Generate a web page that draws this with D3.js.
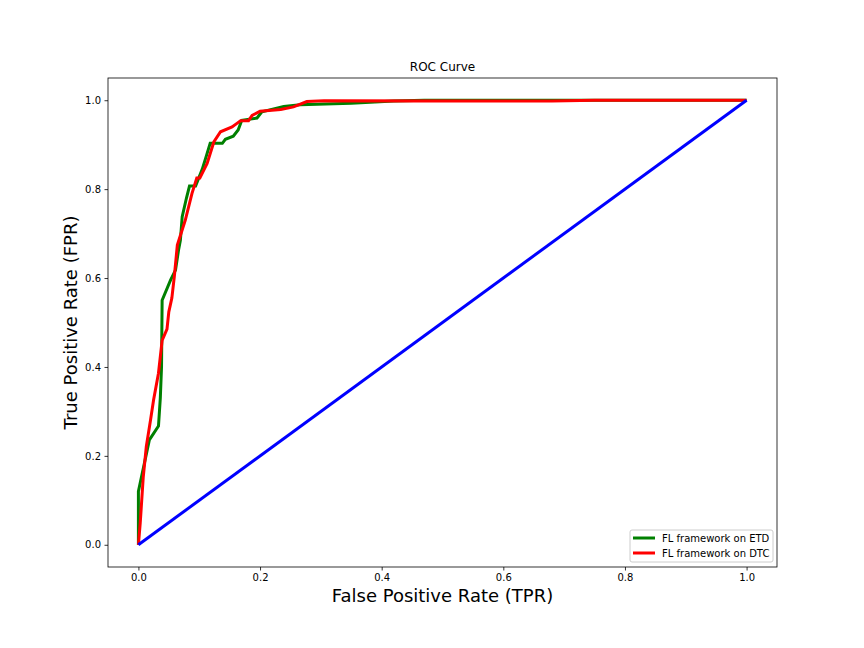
<!DOCTYPE html>
<meta charset="utf-8">
<script src="https://d3js.org/d3.v7.min.js"></script>
<style>
    body { margin: 0; background: #fff; }
    text { font-family: "DejaVu Sans", sans-serif; }
</style>
<div id="my_dataviz"></div>
<script>

    // ROC points: [FPR, TPR]
    var etdPoints = [
        [0, 0], [0, 0.12], [0.018, 0.236], [0.033, 0.267], [0.036, 0.33], [0.038, 0.40],
        [0.039, 0.55], [0.053, 0.596], [0.061, 0.618], [0.066, 0.663], [0.069, 0.685],
        [0.072, 0.738], [0.079, 0.78], [0.084, 0.807], [0.094, 0.807], [0.105, 0.845],
        [0.112, 0.876], [0.118, 0.903], [0.138, 0.903], [0.143, 0.912], [0.156, 0.919],
        [0.164, 0.933], [0.17, 0.955], [0.195, 0.96], [0.203, 0.974], [0.239, 0.986],
        [0.266, 0.99], [0.35, 0.993], [0.42, 0.998], [0.47, 1.0], [1.0, 1.0]
    ];
    var dtcPoints = [
        [0, 0], [0.003, 0.049], [0.008, 0.153], [0.013, 0.221], [0.02, 0.281],
        [0.025, 0.326], [0.033, 0.386], [0.039, 0.46], [0.047, 0.485], [0.05, 0.524],
        [0.055, 0.555], [0.059, 0.603], [0.064, 0.674], [0.077, 0.73], [0.088, 0.79],
        [0.096, 0.825], [0.101, 0.825], [0.113, 0.858], [0.124, 0.906], [0.135, 0.929],
        [0.154, 0.94], [0.162, 0.948], [0.168, 0.954], [0.181, 0.954], [0.187, 0.966],
        [0.2, 0.975], [0.234, 0.979], [0.255, 0.985], [0.277, 0.997], [0.305, 0.999],
        [0.68, 0.998], [0.75, 1.0], [1.0, 1.0]
    ];
    var chancePoints = [[0, 0], [1, 1]];

    var seriesNames = ["FL framework on ETD", "FL framework on DTC"];
    var seriesColors = ["green", "red"];
    var tickValues = [0, 0.2, 0.4, 0.6, 0.8, 1.0];

    var margin = { top: 78, right: 87, bottom: 81, left: 108 },
        width = 864 - margin.left - margin.right,
        height = 648 - margin.top - margin.bottom;

    var root = d3.select("#my_dataviz")
        .append("svg")
        .attr("width", 864)
        .attr("height", 648);

    var svg = root.append("g")
        .attr("transform", "translate(" + margin.left + "," + margin.top + ")");

    var x = d3.scaleLinear().domain([-0.05, 1.05]).range([0, width]);
    var y = d3.scaleLinear().domain([-0.05, 1.05]).range([height, 0]);

    // axes
    var xAxis = svg.append("g")
        .attr("transform", "translate(0," + height + ")")
        .call(d3.axisBottom(x).tickValues(tickValues).tickFormat(d3.format(".1f")).tickSize(3.5).tickPadding(3.5));
    var yAxis = svg.append("g")
        .call(d3.axisLeft(y).tickValues(tickValues).tickFormat(d3.format(".1f")).tickSize(3.5).tickPadding(3.5));
    [xAxis, yAxis].forEach(function (a) {
        a.selectAll("text").style("font-size", "10px").attr("fill", "#000");
        a.selectAll("line").attr("stroke", "#000").attr("stroke-width", 0.8);
        a.select(".domain").remove();
    });

    // frame
    svg.append("rect")
        .attr("width", width).attr("height", height)
        .attr("fill", "none").attr("stroke", "#000").attr("stroke-width", 0.8);

    var line = d3.line()
        .x(function (d) { return x(d[0]); })
        .y(function (d) { return y(d[1]); });

    svg.append("path").datum(etdPoints)
        .attr("d", line).attr("fill", "none")
        .attr("stroke", seriesColors[0]).attr("stroke-width", 3);
    svg.append("path").datum(dtcPoints)
        .attr("d", line).attr("fill", "none")
        .attr("stroke", seriesColors[1]).attr("stroke-width", 3);
    svg.append("path").datum(chancePoints)
        .attr("d", line).attr("fill", "none")
        .attr("stroke", "blue").attr("stroke-width", 3);

    // title and labels
    svg.append("text")
        .attr("x", width / 2).attr("y", -7)
        .attr("text-anchor", "middle")
        .style("font-size", "12px")
        .text("ROC Curve");
    svg.append("text")
        .attr("x", width / 2).attr("y", height + 35)
        .attr("text-anchor", "middle")
        .style("font-size", "18px")
        .text("False Positive Rate (TPR)");
    svg.append("text")
        .attr("transform", "translate(-31," + (height / 2) + ") rotate(-90)")
        .attr("text-anchor", "middle")
        .style("font-size", "18px")
        .text("True Positive Rate (FPR)");

    // legend
    var legend = svg.append("g")
        .attr("transform", "translate(" + (width - 147) + "," + (height - 37) + ")");
    legend.append("rect")
        .attr("width", 143).attr("height", 32).attr("rx", 2)
        .attr("fill", "#fff").attr("fill-opacity", 0.8)
        .attr("stroke", "#ccc").attr("stroke-width", 1);
    seriesNames.forEach(function (name, i) {
        var g = legend.append("g").attr("transform", "translate(0," + (8 + i * 15) + ")");
        g.append("line")
            .attr("x1", 3).attr("x2", 25).attr("y1", 0).attr("y2", 0)
            .attr("stroke", seriesColors[i]).attr("stroke-width", 3);
        g.append("text")
            .attr("x", 32).attr("y", 3.5)
            .style("font-size", "10px")
            .text(name);
    });

</script>
